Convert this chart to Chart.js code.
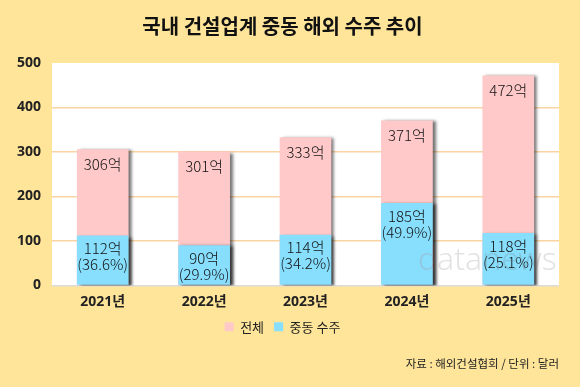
<!DOCTYPE html>
<html>
<head>
<meta charset="utf-8">
<script src="https://cdn.jsdelivr.net/npm/chart.js@4"></script>
<style>
  html, body { margin: 0; padding: 0; background: #FFE599; }
  #wrap { width: 580px; height: 387px; }
</style>
</head>
<body>
<div id="wrap"><canvas id="chartSuju"></canvas></div>
<script>
const years = ["2021년", "2022년", "2023년", "2024년", "2025년"];
const total = [306, 301, 333, 371, 472];
const middleEast = [112, 90, 114, 185, 118];
const shareLabels = ["36.6%", "29.9%", "34.2%", "49.9%", "25.1%"];
const yTicks = [0, 100, 200, 300, 400, 500];

const labelFont = '300 15px "Noto Sans CJK KR", sans-serif';

// fondo blanco del area del grafico
const plotBg = {
  id: "plotBg",
  beforeDraw: (chart) => {
    const { ctx, chartArea } = chart;
    ctx.save();
    ctx.fillStyle = "#ffffff";
    ctx.fillRect(chartArea.left, chartArea.top, chartArea.right - chartArea.left, chartArea.bottom - chartArea.top);
    ctx.restore();
  },
};

// sombra de las barras
const barShadow = {
  id: "barShadow",
  beforeDatasetDraw: (chart) => {
    const ctx = chart.ctx;
    ctx.save();
    ctx.shadowColor = "rgba(0,0,0,0.55)";
    ctx.shadowOffsetX = 3;
    ctx.shadowOffsetY = 1;
    ctx.shadowBlur = 3;
  },
  afterDatasetDraw: (chart) => {
    chart.ctx.restore();
  },
};

// etiquetas dentro de las barras + marca de agua
const barLabels = {
  id: "barLabels",
  afterDatasetsDraw: (chart) => {
    const { ctx } = chart;
    const metaBlue = chart.getDatasetMeta(0);
    const metaPink = chart.getDatasetMeta(1);
    ctx.save();
    ctx.font = labelFont;
    ctx.fillStyle = "#111";
    ctx.textAlign = "center";
    ctx.textBaseline = "middle";
    metaPink.data.forEach((bar, i) => {
      ctx.fillText(total[i] + "억", bar.x, bar.y + 15);
    });
    metaBlue.data.forEach((bar, i) => {
      ctx.fillText(middleEast[i] + "억", bar.x, bar.y + 13);
      ctx.fillText("(" + shareLabels[i] + ")", bar.x, bar.y + 29);
    });
    // marca de agua
    ctx.textAlign = "left";
    ctx.font = '300 32px "Noto Sans", sans-serif';
    ctx.fillStyle = "rgba(220,70,70,0.15)";
    ctx.fillText("d", 418, 261);
    ctx.fillStyle = "rgba(110,110,110,0.2)";
    ctx.fillText("atanews", 437, 261);
    ctx.restore();
  },
};

const chartSuju = new Chart(document.getElementById("chartSuju"), {
  type: "bar",
  data: {
    labels: years,
    datasets: [
      {
        label: "중동 수주",
        data: middleEast,
        backgroundColor: "#87DEFD",
        borderWidth: 0,
        grouped: false,
        barPercentage: 0.51,
        categoryPercentage: 1,
      },
      {
        label: "전체",
        data: total,
        backgroundColor: "#FFC9C9",
        borderWidth: 0,
        grouped: false,
        barPercentage: 0.51,
        categoryPercentage: 1,
      },
    ],
  },
  options: {
    responsive: true,
    maintainAspectRatio: false,
    animation: false,
    layout: {
      padding: { left: 6, right: 21, top: 0, bottom: 4 },
    },
    scales: {
      x: {
        grid: { display: false },
        border: { display: false },
        ticks: {
          color: "#222",
          font: { family: '"Noto Sans", "Noto Sans CJK KR", sans-serif', size: 14, weight: "bold" },
          padding: 0,
        },
      },
      y: {
        min: 0,
        max: 500,
        afterBuildTicks: (axis) => {
          axis.ticks = yTicks.map((v) => ({ value: v }));
        },
        border: { display: false },
        grid: {
          drawTicks: false,
          lineWidth: 1.5,
          color: (c) => {
            if (c.tick.value === 0) return "#dcdcdc";
            if (c.tick.value === 500) return "rgba(0,0,0,0)";
            return "#FAD3A3";
          },
        },
        ticks: {
          color: "#222",
          padding: 11,
          font: { family: '"Noto Sans", sans-serif', size: 14, weight: "bold" },
        },
      },
    },
    plugins: {
      title: {
        display: true,
        text: "국내 건설업계 중동 해외 수주 추이",
        color: "#111",
        font: { family: '"Noto Sans CJK KR", sans-serif', size: 20, weight: "bold" },
        padding: { top: 14, bottom: 25 },
      },
      subtitle: {
        display: true,
        position: "bottom",
        align: "end",
        text: "자료 : 해외건설협회 / 단위 : 달러",
        color: "#222",
        font: { family: '"Noto Sans CJK KR", sans-serif', size: 11.5 },
        padding: { top: 14, bottom: 12 },
      },
      legend: {
        position: "bottom",
        reverse: true,
        labels: {
          boxWidth: 9,
          boxHeight: 9,
          color: "#222",
          padding: 10,
          font: { family: '"Noto Sans CJK KR", sans-serif', size: 13 },
        },
      },
      tooltip: { enabled: false },
    },
  },
  plugins: [plotBg, barShadow, barLabels],
});
</script>
</body>
</html>
